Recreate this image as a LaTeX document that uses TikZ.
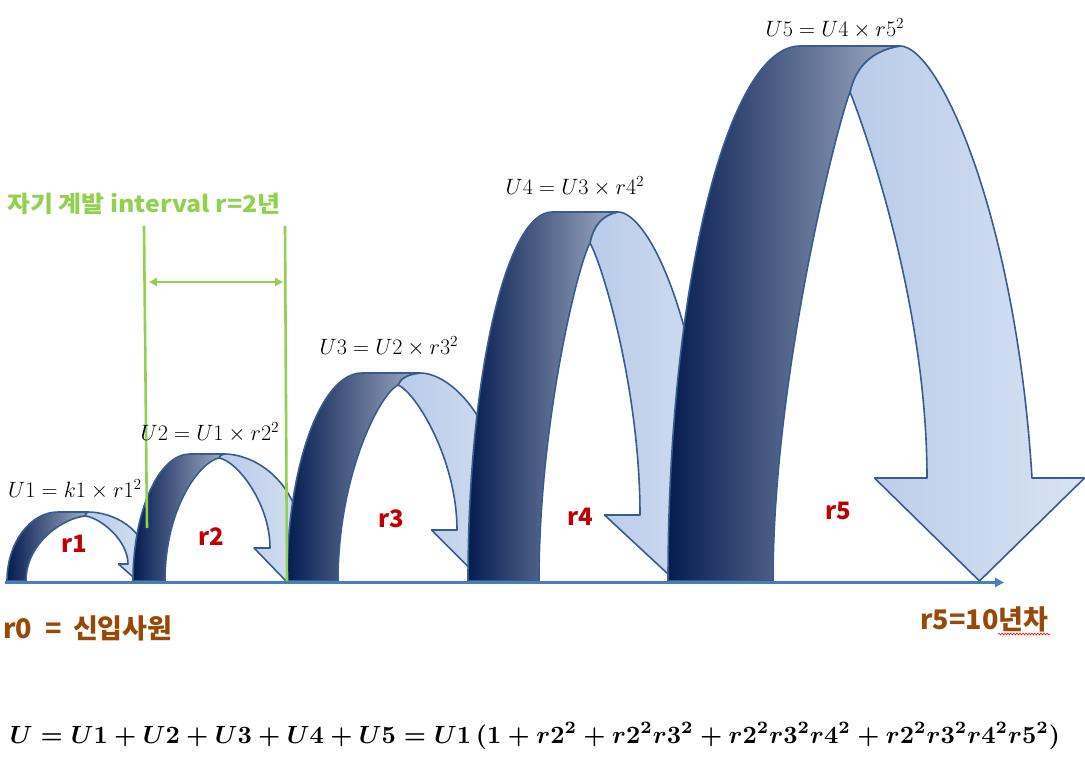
\documentclass[tikz,border=0pt]{standalone}
\usepackage{fontspec}
\usepackage{graphicx}
\usetikzlibrary{arrows.meta,decorations.pathmorphing}
\newfontfamily\kr{Noto Sans CJK KR}
\definecolor{axisblue}{RGB}{74,126,187}
\definecolor{bordblue}{RGB}{56,93,140}
\definecolor{navy}{RGB}{5,28,80}
\definecolor{darkright}{RGB}{160,172,196}
\definecolor{lightL}{RGB}{185,203,233}
\definecolor{lightR}{RGB}{216,227,243}
\definecolor{labelred}{RGB}{192,0,0}
\definecolor{grn}{RGB}{146,208,80}
\definecolor{brwn}{RGB}{152,72,7}
\tikzset{
  lightband/.style={draw=bordblue, line width=1.6pt, line join=round, left color=lightL, right color=lightR},
  darkband/.style={draw=bordblue, line width=1.6pt, line join=round, left color=navy, right color=darkright},
  ulabel/.style={font=\fontsize{22}{25}\selectfont, inner sep=0pt},
  rlabel/.style={font=\kr\bfseries\fontsize{24}{28}\selectfont, text=labelred, inner sep=0pt},
  brownlabel/.style={font=\kr\bfseries\fontsize{27}{31}\selectfont, text=brwn, inner sep=0pt},
  greenlabel/.style={font=\kr\bfseries\fontsize{23}{27}\selectfont, text=grn, inner sep=0pt},
  greenline/.style={draw=grn, line width=2.6pt},
  axisline/.style={draw=axisblue, line width=2.6pt, -{Triangle[length=9pt,width=9pt]}},
}
\newcommand{\ulab}[1]{\scalebox{1.07}{$#1$}}
% roundness factor \jaR (0 = pointed, 1 = round)
% #1 xL, #2 xLi, #3 ytop, #4 xa, #5 xb, #6 xp, #7 yp, #8 xRi, #9 yw
\newcommand{\jarrow}[9]{%
  \pgfmathsetmacro{\jaBW}{#2-#1}%
  \pgfmathsetmacro{\jaRo}{#8+\jaBW}%
  \pgfmathsetmacro{\jaWL}{#8-0.5*\jaBW}%
  \pgfmathsetmacro{\jaWR}{\jaRo+0.5*\jaBW}%
  \pgfmathsetmacro{\jaTX}{0.5*(\jaWL+\jaWR)}%
  \pgfmathsetmacro{\jaDX}{#5-#6}%
  \pgfmathsetmacro{\jaDY}{#7-#3}%
  \pgfmathsetmacro{\jaH}{581-#7}%
  % inner left controls
  \pgfmathsetmacro{\jaLax}{#2}%
  \pgfmathsetmacro{\jaLay}{581-(0.41+0.19*\jaR)*\jaH}%
  \pgfmathsetmacro{\jaLbx}{#6-(0.19+0.16*\jaR)*(#6-#2)}%
  \pgfmathsetmacro{\jaLby}{#7+(0.078-0.048*\jaR)*\jaH}%
  % inner right controls
  \pgfmathsetmacro{\jaRax}{#6+(0.2+0.15*\jaR)*(#8-#6)}%
  \pgfmathsetmacro{\jaRay}{#7+(0.1-0.07*\jaR)*(#9-#7)}%
  \pgfmathsetmacro{\jaRby}{#9-(0.45+0.05*\jaR)*(#9-#7)}%
  % outer right controls
  \pgfmathsetmacro{\jaOax}{#5+(0.3+0.1*\jaR)*(\jaRo-#5)}%
  \pgfmathsetmacro{\jaObx}{\jaRo-(0.12-0.12*\jaR)*(\jaRo-#5)}%
  \pgfmathsetmacro{\jaOby}{#9-(0.6+0.1*\jaR)*(#9-#3)}%
  \path[lightband] (#5,#3) .. controls (\jaOax,#3) and (\jaObx,\jaOby) .. (\jaRo,#9)
     -- (\jaWR,#9) -- (\jaTX,581) -- (\jaWL,#9) -- (#8,#9)
     .. controls (#8,\jaRby) and (\jaRax,\jaRay) .. (#6,#7)
     .. controls ({#6+0.1*\jaDX},{#7-0.5*\jaDY}) and ({#5-0.6*\jaDX},{#3+0.1*\jaDY}) .. (#5,#3) -- cycle;
  \path[darkband] (#1,581) .. controls (#1,{581-0.55*(581-#3)}) and ({#4-0.55*(#4-#1)},#3) .. (#4,#3)
     -- (#5,#3) .. controls ({#5-0.6*\jaDX},{#3+0.1*\jaDY}) and ({#6+0.1*\jaDX},{#7-0.5*\jaDY}) .. (#6,#7)
     .. controls (\jaLbx,\jaLby) and (\jaLax,\jaLay) .. (#2,581) -- cycle;
}
\begin{document}
\begin{tikzpicture}[x=1pt,y=-1pt]
\useasboundingbox[fill=white] (0,0) rectangle (1085,763);
% jump arrows
\def\jaR{1}
\jarrow{7}{26}{512}{58}{88}{85}{516}{128}{564}
\jarrow{133}{165}{454}{190}{224}{219}{458}{270}{548}
\def\jaR{0.7}
\jarrow{287}{338}{373}{362}{420}{398}{385}{457}{530}
\def\jaR{0.3}
\jarrow{468}{539}{212}{552}{618}{590}{243}{640}{515}
\def\jaR{0}
\jarrow{668}{773}{46}{800}{900}{850}{92}{927}{478}
% interval markers
\coordinate (gl1) at (144,226);
\coordinate (gl2) at (147,528);
\coordinate (gr1) at (285,226);
\coordinate (gr2) at (287,581);
\coordinate (ga) at (149,282);
\coordinate (gb) at (283,282);
\draw[greenline] (gl1) -- (gl2);
\draw[greenline] (gr1) -- (gr2);
\draw[greenline, {Triangle[length=8pt,width=8pt]}-{Triangle[length=8pt,width=8pt]}] (ga) -- (gb);
% axis
\coordinate (ax0) at (5,582.5);
\coordinate (ax1) at (1004,582.5);
\draw[axisline] (ax0) -- (ax1);
% labels
\node[ulabel] (u1) at (75,489) {\ulab{U1 = k1 \times r1^2}};
\node[ulabel] (u2) at (210,432) {\ulab{U2 = U1 \times r2^2}};
\node[ulabel] (u3) at (389,346) {\ulab{U3 = U2 \times r3^2}};
\node[ulabel] (u4) at (575,186) {\ulab{U4 = U3 \times r4^2}};
\node[ulabel] (u5) at (835,28) {\ulab{U5 = U4 \times r5^2}};
\node[rlabel] (r1) at (74,544) {r1};
\node[rlabel] (r2) at (211,537) {r2};
\node[rlabel] (r3) at (391,519) {r3};
\node[rlabel] (r4) at (580,517) {r4};
\node[rlabel] (r5) at (838,511) {r5};
\node[greenlabel, anchor=west] (title) at (7,204) {\scalebox{1.085}[1]{자기 계발 interval r=2년}};
\node[brownlabel, anchor=west] (r0) at (3,628) {r0\hspace{0.25em} = \hspace{0.2em}신입사원};
\node[brownlabel, anchor=west] (r5y) at (920,619) {r5=10년차};
\coordinate (sq0) at (998,634);
\coordinate (sq1) at (1050,634);
\draw[red, line width=0.6pt, decorate, decoration={snake, amplitude=0.9pt, segment length=3pt}] (sq0) -- (sq1);
\node[inner sep=0pt] (formula) at (535,736) {\resizebox{1050pt}{!}{\boldmath$U = U1 + U2 + U3 + U4 + U5 = U1\,(1 + r2^2 + r2^2r3^2 + r2^2r3^2r4^2 + r2^2r3^2r4^2r5^2)$}};
\end{tikzpicture}
\end{document}
